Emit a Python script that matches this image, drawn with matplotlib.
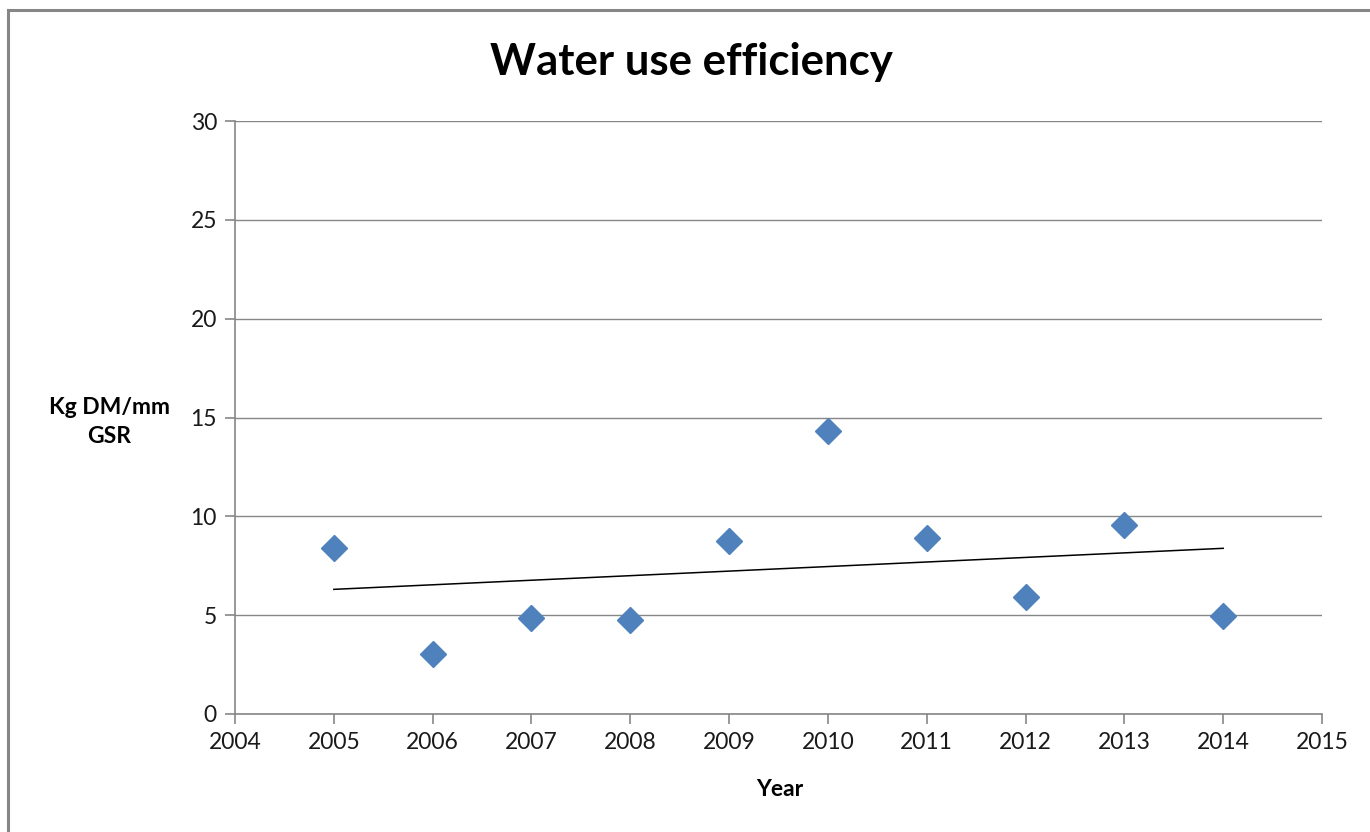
import matplotlib
matplotlib.use("Agg")
import matplotlib.pyplot as plt
import numpy as np
from matplotlib.patches import Rectangle

years = [2005, 2006, 2007, 2008, 2009, 2010, 2011, 2012, 2013, 2014]
wue = [8.40, 3.03, 4.86, 4.75, 8.75, 14.31, 8.90, 5.92, 9.56, 4.96]
x_ticks = [2004, 2005, 2006, 2007, 2008, 2009, 2010, 2011, 2012, 2013, 2014, 2015]
y_ticks = [0, 5, 10, 15, 20, 25, 30]

plt.rcParams['font.family'] = ['Lato', 'DejaVu Sans']

fig = plt.figure(figsize=(13.7, 8.32), dpi=100)
fig.patches.append(Rectangle((8/1370, -0.1), 1.2, 1 - 10/832 + 0.1, transform=fig.transFigure,
                             fill=False, edgecolor='#868686', linewidth=2.2))
ax = fig.add_axes([235/1370, 1 - 714/832, (1322 - 235)/1370, (714 - 121)/832])

ax.set_xlim(2004, 2015)
ax.set_ylim(0, 30)
ax.set_xticks(x_ticks)
ax.set_yticks(y_ticks)
ax.grid(axis='y', color='#868686', linewidth=1)
ax.set_axisbelow(True)
for s in ['top', 'right']:
    ax.spines[s].set_visible(False)
for s in ['left', 'bottom']:
    ax.spines[s].set_color('#868686')
    ax.spines[s].set_linewidth(1.2)
ax.tick_params(axis='both', colors='#868686', labelcolor='#1a1a1a', labelsize=16.5, length=7, width=1.2)
ax.tick_params(axis='x', pad=6)
ax.tick_params(axis='y', pad=6)

coef = np.polyfit(years, wue, 1)
trend_x = np.array([years[0], years[-1]])
ax.plot(trend_x, np.polyval(coef, trend_x), color='black', linewidth=1.1, zorder=2)
ax.plot(years, wue, linestyle='none', marker='D', markersize=13, color='#4F81BD',
        markeredgecolor='#4F81BD', zorder=3, clip_on=False)

fig.text(0.505, 1 - 62/832, 'Water use efficiency', ha='center', va='center',
         fontsize=31.5, fontweight='bold', color='black')
fig.text(109/1370, 1 - 422/832, 'Kg DM/mm\nGSR', ha='center', va='center',
         fontsize=16.5, fontweight='bold', color='black', linespacing=1.45)
fig.text(780/1370, 1 - 789/832, 'Year', ha='center', va='center',
         fontsize=16.5, fontweight='bold', color='black')

fig.savefig('out.png', dpi=100)
